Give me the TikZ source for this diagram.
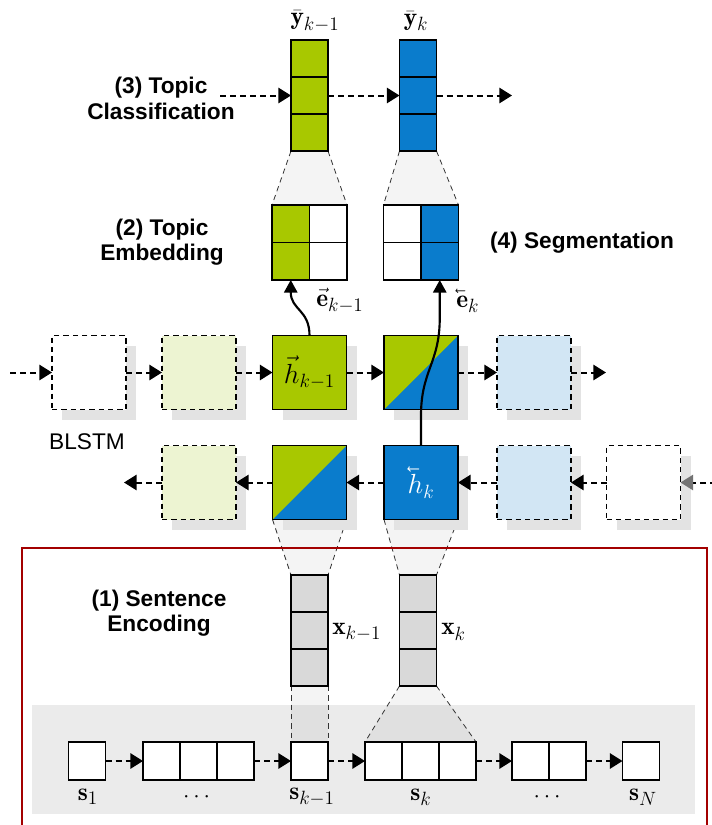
\documentclass[tikz,border=0pt]{standalone}
\usepackage{fontspec}
\usepackage{amsmath}
\usepackage{graphicx}
\newfontfamily\sflabel{Liberation Sans}
\usetikzlibrary{arrows.meta,shadows,calc}

\definecolor{tgreen}{HTML}{A8C800}
\definecolor{tblue}{HTML}{0A7CCC}
\definecolor{lgreen}{HTML}{EDF4D2}
\definecolor{lblue}{HTML}{D2E6F4}
\definecolor{cellgray}{HTML}{D9D9D9}
\definecolor{bandgray}{HTML}{EBEBEB}
\definecolor{framered}{HTML}{A30000}
\definecolor{shade}{HTML}{E3E3E3}

% reversed vector accent (arrow pointing left)
\newcommand{\revvec}[1]{\reflectbox{$\vec{\reflectbox{$#1$}}$}}

\pgfdeclarelayer{bg}
\pgfsetlayers{bg,main}

\begin{document}
\begin{tikzpicture}[x=0.75pt,y=-0.75pt,
  cellsty/.style={draw=black, line width=1.4pt, inner sep=0pt, outer sep=0pt,
    minimum width=27.75pt, minimum height=27.75pt},
  ecell/.style={cellsty, minimum width=28.125pt, minimum height=28.125pt},
  scell/.style={cellsty, fill=white, minimum height=28.5pt},
  blk/.style={draw=black, line width=1.4pt, inner sep=0pt, outer sep=0pt,
    minimum size=55.5pt, font={\fontsize{21}{23}\selectfont},
    drop shadow={shadow xshift=7.5pt, shadow yshift=-7.5pt, fill=shade, opacity=1}},
  dblk/.style={blk, dash pattern=on 4pt off 3pt},
  split/.style={blk, fill=tblue, path picture={
    \fill[tgreen] (path picture bounding box.north west) -- (path picture bounding box.north east)
      -- (path picture bounding box.south west) -- cycle;}},
  darr/.style={draw=black, line width=1.5pt, dash pattern=on 4.5pt off 3pt,
    -{Triangle[length=9.5pt,width=11.5pt]}},
  carr/.style={draw=black, line width=1.6pt, -{Triangle[length=9.5pt,width=10pt]}},
  funnel/.style={fill=black, fill opacity=0.045},
  fdash/.style={draw=black!80, line width=0.6pt, dash pattern=on 4pt off 3pt},
  sect/.style={font={\sflabel\bfseries\fontsize{17}{19}\selectfont}, inner sep=0pt, align=center},
  mlab/.style={font={\fontsize{19}{21}\selectfont}, inner sep=0pt}
]
\clip (0,0) rectangle (712,825);

% ---------- (3) topic classification columns ----------
\foreach \i/\yy in {a/58.5,b/95.5,c/132.5}{
  \node[cellsty, fill=tgreen] (ya\i) at (309.5,\yy) {};
  \node[cellsty, fill=tblue]  (yb\i) at (418,\yy) {};
}
\node[mlab] (ylab1) at (315,21) {$\bar{\mathbf{y}}_{k-1}$};
\node[mlab] (ylab2) at (416,21) {$\bar{\mathbf{y}}_{k}$};
\coordinate (yin) at (220,95.5);
\coordinate (yout) at (512,95.5);
\draw[darr] (yin) -- (yab.west);
\draw[darr] (yab.east) -- (ybb.west);
\draw[darr] (ybb.east) -- (yout);

% ---------- (2) topic embeddings ----------
\node[ecell, fill=tgreen] (eLtl) at (290.75,223.75) {};
\node[ecell, fill=white]  (eLtr) at (328.25,223.75) {};
\node[ecell, fill=tgreen] (eLbl) at (290.75,261.25) {};
\node[ecell, fill=white]  (eLbr) at (328.25,261.25) {};
\node[ecell, fill=white]  (eRtl) at (402.25,223.75) {};
\node[ecell, fill=tblue]  (eRtr) at (439.75,223.75) {};
\node[ecell, fill=white]  (eRbl) at (402.25,261.25) {};
\node[ecell, fill=tblue]  (eRbr) at (439.75,261.25) {};

% ---------- BLSTM, forward row ----------
\node[dblk, fill=white]  (hf1) at (89,372.5) {};
\node[dblk, fill=lgreen] (hf2) at (199,372.5) {};
\node[blk, fill=tgreen]  (hf3) at (309.5,372.5) {$\vec{h}_{k-1}$};
\node[split]             (hf4) at (421,372.5) {};
\node[dblk, fill=lblue]  (hf5) at (534,372.5) {};
\coordinate (fin) at (10,372.5);
\coordinate (fout) at (606,372.5);
\draw[darr] (fin) -- (hf1.west);
\draw[darr] (hf1.east) -- (hf2.west);
\draw[darr] (hf2.east) -- (hf3.west);
\draw[darr] (hf3.east) -- (hf4.west);
\draw[darr] (hf4.east) -- (hf5.west);
\draw[darr] (hf5.east) -- (fout);

% ---------- BLSTM, backward row ----------
\node[dblk, fill=lgreen] (hb2) at (199,482.5) {};
\node[split]             (hb3) at (309.5,482.5) {};
\node[blk, fill=tblue, text=white] (hb4) at (421,482.5) {$\revvec{h}_{k}$};
\node[dblk, fill=lblue]  (hb5) at (534,482.5) {};
\node[dblk, fill=white]  (hb6) at (643.5,482.5) {};
\coordinate (bin) at (716,482.5);
\coordinate (bout) at (124,482.5);
\draw[darr, -{Triangle[length=9.5pt,width=11.5pt,color=black!55]}] (bin) -- (hb6.east);
\draw[darr] (hb6.west) -- (hb5.east);
\draw[darr] (hb5.west) -- (hb4.east);
\draw[darr] (hb4.west) -- (hb3.east);
\draw[darr] (hb3.west) -- (hb2.east);
\draw[darr] (hb2.west) -- (bout);

\node[font={\sflabel\fontsize{17}{19}\selectfont}, inner sep=0pt] (blstm) at (87,442) {BLSTM};

% ---------- embedding lookups ----------
\draw[carr] (hf3.north) .. controls ($(hf3.north)+(0,-26)$) and ($(eLbl.south)+(0,30)$) .. (eLbl.south);
\draw[carr] (hb4.north) -- ($(hb4.north)+(0,-30)$)
  .. controls ($(hb4.north)+(0,-75)$) and ($(eRbr.south)+(0,83)$) .. ($(eRbr.south)+(0,38)$)
  -- (eRbr.south);
\node[mlab, anchor=west] (elab1) at (316,301) {$\vec{\mathbf{e}}_{k-1}$};
\node[mlab, anchor=west] (elab2) at (456,301) {$\revvec{\mathbf{e}}_{k}$};

% ---------- (1) sentence encodings ----------
\foreach \i/\yy in {a/593.5,b/630.5,c/667.5}{
  \node[cellsty, fill=cellgray] (xa\i) at (309.5,\yy) {};
  \node[cellsty, fill=cellgray] (xb\i) at (418,\yy) {};
}
\node[mlab, anchor=west] (xlab1) at (332,632) {$\mathbf{x}_{k-1}$};
\node[mlab, anchor=west] (xlab2) at (441,632) {$\mathbf{x}_{k}$};

% ---------- sentence sequence ----------
\node[scell] (s1) at (87,761) {};
\node[scell] (d1a) at (161.5,761) {};
\node[scell] (d1b) at (198.5,761) {};
\node[scell] (d1c) at (235.5,761) {};
\node[scell] (sk1) at (309.5,761) {};
\node[scell] (ska) at (383.5,761) {};
\node[scell] (skb) at (420.5,761) {};
\node[scell] (skc) at (457.5,761) {};
\node[scell] (d2a) at (530.5,761) {};
\node[scell] (d2b) at (567.5,761) {};
\node[scell] (sN) at (641,761) {};
\draw[darr] (s1.east) -- (d1a.west);
\draw[darr] (d1c.east) -- (sk1.west);
\draw[darr] (sk1.east) -- (ska.west);
\draw[darr] (skc.east) -- (d2a.west);
\draw[darr] (d2b.east) -- (sN.west);
\node[mlab] (ls1) at (88,797) {$\mathbf{s}_1$};
\node[mlab] (ld1) at (198.5,797) {$\cdots$};
\node[mlab] (lsk1) at (312,797) {$\mathbf{s}_{k-1}$};
\node[mlab] (lsk) at (421,797) {$\mathbf{s}_{k}$};
\node[mlab] (ld2) at (549,797) {$\cdots$};
\node[mlab] (lsN) at (643,797) {$\mathbf{s}_{N}$};

% ---------- section titles ----------
\node[sect] (t3) at (161,98.5) {(3) Topic\\Classification};
\node[sect] (t2) at (162,242) {(2) Topic\\Embedding};
\node[sect] (t4) at (582,243) {(4) Segmentation};
\node[sect] (t1) at (159,613) {(1) Sentence\\Encoding};

% ---------- background: band and funnels ----------
\begin{pgfonlayer}{bg}
  \fill[bandgray] (32,705) rectangle (695,814);
  \fill[funnel] (yac.south west) -- (yac.south east) -- (eLtr.north east) -- (eLtl.north west) -- cycle;
  \draw[fdash] (yac.south west) -- (eLtl.north west);
  \draw[fdash] (yac.south east) -- (eLtr.north east);
  \fill[funnel] (ybc.south west) -- (ybc.south east) -- (eRtr.north east) -- (eRtl.north west) -- cycle;
  \draw[fdash] (ybc.south west) -- (eRtl.north west);
  \draw[fdash] (ybc.south east) -- (eRtr.north east);
  \fill[funnel] (hb3.south west) -- (hb3.south east) -- (xaa.north east) -- (xaa.north west) -- cycle;
  \draw[fdash] (hb3.south west) -- (xaa.north west);
  \draw[fdash] (hb3.south east) -- (xaa.north east);
  \fill[funnel] (hb4.south west) -- (hb4.south east) -- (xba.north east) -- (xba.north west) -- cycle;
  \draw[fdash] (hb4.south west) -- (xba.north west);
  \draw[fdash] (hb4.south east) -- (xba.north east);
  \fill[funnel] (xac.south west) -- (xac.south east) -- (sk1.north east) -- (sk1.north west) -- cycle;
  \draw[fdash] (xac.south west) -- (sk1.north west);
  \draw[fdash] (xac.south east) -- (sk1.north east);
  \fill[funnel] (xbc.south west) -- (xbc.south east) -- (skc.north east) -- (ska.north west) -- cycle;
  \draw[fdash] (xbc.south west) -- (ska.north west);
  \draw[fdash] (xbc.south east) -- (skc.north east);
\end{pgfonlayer}

% ---------- sentence-encoding frame ----------
\draw[framered, line width=2.2pt] (22,548) rectangle (707,850);
\end{tikzpicture}
\end{document}
